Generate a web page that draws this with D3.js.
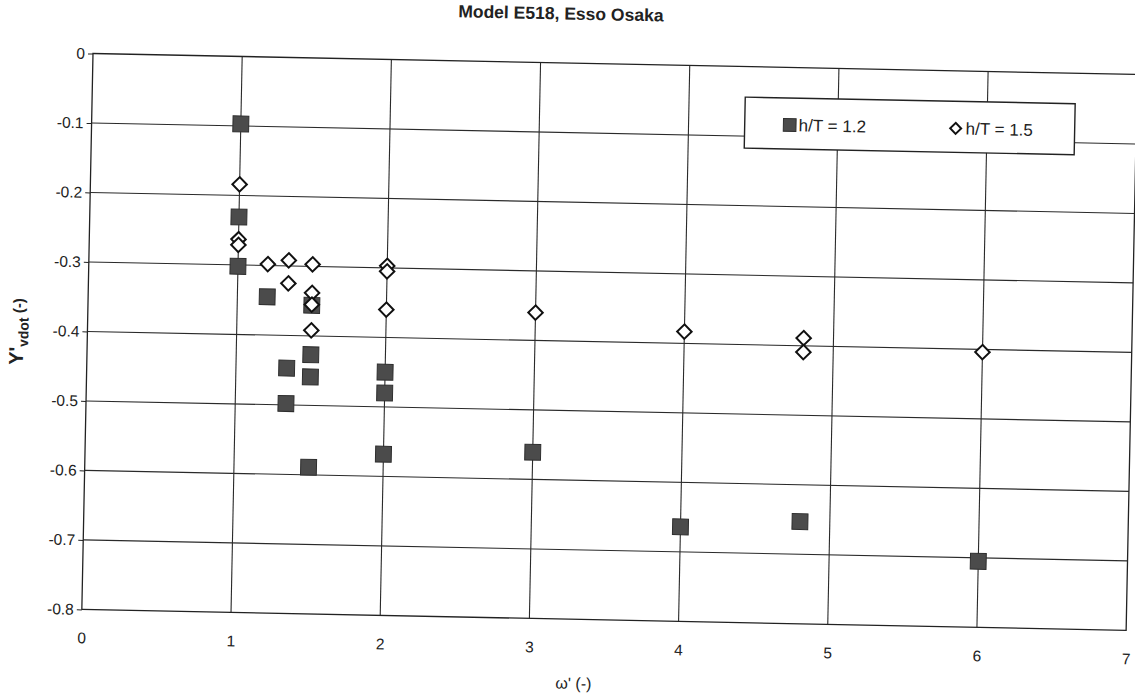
<!DOCTYPE html>
<html>
<head>
<meta charset="utf-8">
<script src="https://cdn.jsdelivr.net/npm/d3@7"></script>
<style>
  body { margin: 0; background: #fff; }
  text { font-family: "Liberation Sans", Arial, sans-serif; fill: #222; }
</style>
</head>
<body>
<svg id="chart" width="1135" height="696"></svg>
<script>
// Tick values
const xTicks = [0, 1, 2, 3, 4, 5, 6, 7];
const yTicks = [0, -0.1, -0.2, -0.3, -0.4, -0.5, -0.6, -0.7, -0.8];

// h/T = 1.2 (filled squares)
const omegaLow = [1.0, 1.0, 1.0, 1.2, 1.34, 1.34, 1.5, 1.5, 1.5, 1.5, 2.0, 2.0, 2.0, 3.0, 4.0, 4.8, 6.0];
const yvLow    = [-0.097, -0.231, -0.302, -0.345, -0.447, -0.498, -0.356, -0.427, -0.459, -0.589,
                  -0.450, -0.480, -0.568, -0.561, -0.664, -0.653, -0.705];

// h/T = 1.5 (open diamonds)
const omegaHigh = [1.0, 1.0, 1.0, 1.2, 1.34, 1.34, 1.5, 1.5, 1.5, 1.5, 2.0, 2.0, 2.0, 3.0, 4.0, 4.8, 4.8, 6.0];
const yvHigh    = [-0.184, -0.263, -0.271, -0.298, -0.292, -0.325, -0.297, -0.338, -0.355, -0.392,
                   -0.297, -0.305, -0.360, -0.360, -0.383, -0.389, -0.409, -0.404];

const seriesNames = ["h/T = 1.2", "h/T = 1.5"];
const titleText = "Model E518, Esso Osaka";

// Layout
const plotLeft = 93, plotTop = 53.5, W = 1044.5, H = 556;
const tilt = 1.15;   // the sheet sits slightly skewed on the page

const svg = d3.select("#chart");
const page = svg.append("g").attr("transform", `rotate(${tilt},${plotLeft},${plotTop})`);
const g = page.append("g").attr("transform", `translate(${plotLeft},${plotTop})`);

const x = d3.scaleLinear().domain([0, 7]).range([0, W]);
const y = d3.scaleLinear().domain([-0.8, 0]).range([H, 0]);

// Gridlines
g.append("g").selectAll("line")
  .data(xTicks.slice(1, -1)).join("line")
  .attr("x1", d => x(d)).attr("x2", d => x(d))
  .attr("y1", 0).attr("y2", H)
  .attr("stroke", "#2a2a2a").attr("stroke-width", 1.1);
g.append("g").selectAll("line")
  .data(yTicks.slice(1, -1)).join("line")
  .attr("x1", 0).attr("x2", W)
  .attr("y1", d => y(d)).attr("y2", d => y(d))
  .attr("stroke", "#2a2a2a").attr("stroke-width", 1.1);

// Plot frame
g.append("rect").attr("x", 0).attr("y", 0).attr("width", W).attr("height", H)
  .attr("fill", "none").attr("stroke", "#222").attr("stroke-width", 1.3);

// Y axis
const yAxis = g.append("g")
  .call(d3.axisLeft(y).tickValues(yTicks).tickSize(5).tickPadding(3)
        .tickFormat(d => d === 0 ? "0" : d3.format(".1f")(d).replace("−", "-")));
yAxis.select(".domain").remove();
yAxis.selectAll("line").attr("stroke", "#222");
yAxis.selectAll("text").style("font-size", "15.5px").attr("fill", "#222")
  .style("font-family", '"Liberation Sans", Arial, sans-serif');

// X axis
const xAxis = g.append("g").attr("transform", `translate(0,${H})`)
  .call(d3.axisBottom(x).tickValues(xTicks).tickSize(0).tickPadding(23).tickFormat(d3.format("d")));
xAxis.select(".domain").remove();
xAxis.selectAll("text").style("font-size", "15.5px").attr("fill", "#222")
  .style("font-family", '"Liberation Sans", Arial, sans-serif');

// Markers
const sqSym = d3.symbol().type(d3.symbolSquare).size(250);
const dmSym = d3.symbol().type(d3.symbolSquare).size(105);

g.append("g").selectAll("path")
  .data(omegaLow.map((w, i) => [w, yvLow[i]])).join("path")
  .attr("d", sqSym)
  .attr("transform", d => `translate(${x(d[0])},${y(d[1])})`)
  .attr("fill", "#4b4b4b").attr("stroke", "#2e2e2e").attr("stroke-width", 1);

g.append("g").selectAll("path")
  .data(omegaHigh.map((w, i) => [w, yvHigh[i]])).join("path")
  .attr("d", dmSym)
  .attr("transform", d => `translate(${x(d[0])},${y(d[1])}) rotate(45)`)
  .attr("fill", "#fff").attr("stroke", "#111").attr("stroke-width", 2);

// Legend
const lg = g.append("g").attr("transform", `translate(${746 - plotLeft},${84 - plotTop})`);
lg.append("rect").attr("width", 330).attr("height", 51)
  .attr("fill", "#fff").attr("stroke", "#222").attr("stroke-width", 1.4);
lg.append("path").attr("d", d3.symbol().type(d3.symbolSquare).size(160))
  .attr("transform", "translate(45,27)")
  .attr("fill", "#4b4b4b").attr("stroke", "#2e2e2e");
lg.append("text").attr("x", 54).attr("y", 33).style("font-size", "17px").text(seriesNames[0]);
lg.append("path").attr("d", d3.symbol().type(d3.symbolSquare).size(60))
  .attr("transform", "translate(211,27) rotate(45)")
  .attr("fill", "#fff").attr("stroke", "#111").attr("stroke-width", 2);
lg.append("text").attr("x", 221).attr("y", 33).style("font-size", "17px").text(seriesNames[1]);

// Title
page.append("text").attr("x", 560).attr("y", 10)
  .attr("text-anchor", "middle").style("font-size", "17.5px").style("font-weight", "bold")
  .attr("fill", "#333").text(titleText);

// Axis titles
page.append("text").attr("x", 586).attr("y", 679)
  .attr("text-anchor", "middle").style("font-size", "16px").text("ω' (-)");

const yl = page.append("text")
  .attr("transform", "translate(29,333) rotate(-90)")
  .attr("text-anchor", "middle").style("font-weight", "bold");
yl.append("tspan").style("font-size", "20px").text("Y'");
yl.append("tspan").attr("dy", 5).style("font-size", "14px").text("vdot");
yl.append("tspan").attr("dy", -5).style("font-size", "15px").text(" (-)");
</script>
</body>
</html>
